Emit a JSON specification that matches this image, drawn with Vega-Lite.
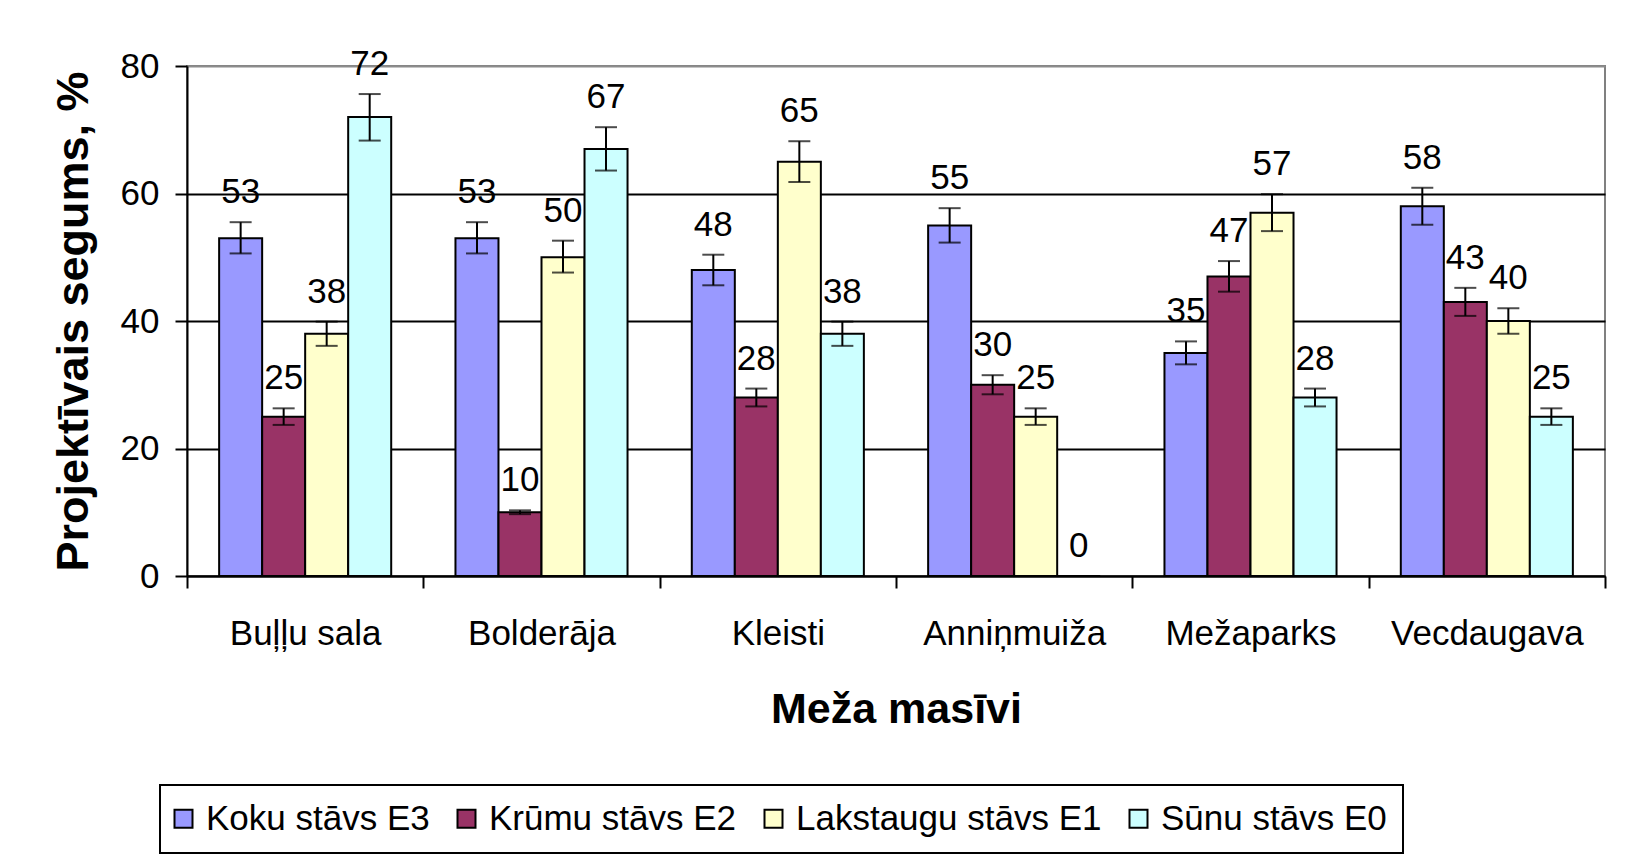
{
  "$schema": "https://vega.github.io/schema/vega-lite/v6.json",
  "width": 1418,
  "height": 510,
  "autosize": {"type": "none"},
  "padding": {"left": 187, "top": 66, "right": 21, "bottom": 281},
  "background": "white",
  "config": {
    "font": "Liberation Sans",
    "view": {"stroke": "#808080", "strokeWidth": 2},
    "axis": {"labelColor": "black", "titleColor": "black", "labelFont": "Liberation Sans", "titleFont": "Liberation Sans"}
  },
  "data": {
    "values": [
      {"site": "Buļļu sala", "layer": "Koku stāvs E3", "value": 53, "lo": 50.6, "hi": 55.5},
      {"site": "Buļļu sala", "layer": "Krūmu stāvs E2", "value": 25, "lo": 23.7, "hi": 26.3},
      {"site": "Buļļu sala", "layer": "Lakstaugu stāvs E1", "value": 38, "lo": 36.1, "hi": 39.9},
      {"site": "Buļļu sala", "layer": "Sūnu stāvs E0", "value": 72, "lo": 68.3, "hi": 75.6},
      {"site": "Bolderāja", "layer": "Koku stāvs E3", "value": 53, "lo": 50.6, "hi": 55.5},
      {"site": "Bolderāja", "layer": "Krūmu stāvs E2", "value": 10, "lo": 9.7, "hi": 10.3},
      {"site": "Bolderāja", "layer": "Lakstaugu stāvs E1", "value": 50, "lo": 47.6, "hi": 52.6},
      {"site": "Bolderāja", "layer": "Sūnu stāvs E0", "value": 67, "lo": 63.6, "hi": 70.4},
      {"site": "Kleisti", "layer": "Koku stāvs E3", "value": 48, "lo": 45.6, "hi": 50.4},
      {"site": "Kleisti", "layer": "Krūmu stāvs E2", "value": 28, "lo": 26.6, "hi": 29.4},
      {"site": "Kleisti", "layer": "Lakstaugu stāvs E1", "value": 65, "lo": 61.8, "hi": 68.2},
      {"site": "Kleisti", "layer": "Sūnu stāvs E0", "value": 38, "lo": 36.1, "hi": 39.9},
      {"site": "Anniņmuiža", "layer": "Koku stāvs E3", "value": 55, "lo": 52.3, "hi": 57.7},
      {"site": "Anniņmuiža", "layer": "Krūmu stāvs E2", "value": 30, "lo": 28.5, "hi": 31.5},
      {"site": "Anniņmuiža", "layer": "Lakstaugu stāvs E1", "value": 25, "lo": 23.7, "hi": 26.3},
      {"site": "Anniņmuiža", "layer": "Sūnu stāvs E0", "value": 0, "lo": 0, "hi": 0},
      {"site": "Mežaparks", "layer": "Koku stāvs E3", "value": 35, "lo": 33.2, "hi": 36.8},
      {"site": "Mežaparks", "layer": "Krūmu stāvs E2", "value": 47, "lo": 44.6, "hi": 49.4},
      {"site": "Mežaparks", "layer": "Lakstaugu stāvs E1", "value": 57, "lo": 54.1, "hi": 59.9},
      {"site": "Mežaparks", "layer": "Sūnu stāvs E0", "value": 28, "lo": 26.6, "hi": 29.4},
      {"site": "Vecdaugava", "layer": "Koku stāvs E3", "value": 58, "lo": 55.1, "hi": 60.9},
      {"site": "Vecdaugava", "layer": "Krūmu stāvs E2", "value": 43, "lo": 40.8, "hi": 45.2},
      {"site": "Vecdaugava", "layer": "Lakstaugu stāvs E1", "value": 40, "lo": 38.0, "hi": 42.0},
      {"site": "Vecdaugava", "layer": "Sūnu stāvs E0", "value": 25, "lo": 23.7, "hi": 26.3}
    ]
  },
  "encoding": {
    "x": {
      "field": "site", "type": "nominal", "sort": null,
      "scale": {"paddingInner": 0, "paddingOuter": 0},
      "axis": {
        "title": "Meža masīvi", "titleFontSize": 43, "titleFontWeight": "bold", "titlePadding": 37,
        "labelAngle": 0, "labelFontSize": 35, "labelPadding": 28, "labelLimit": 0,
        "tickBand": "extent", "tickSize": 12, "tickColor": "black", "tickWidth": 2,
        "domainColor": "black", "domainWidth": 2, "grid": false
      }
    },
    "xOffset": {
      "field": "layer", "type": "nominal", "sort": ["Koku stāvs E3", "Krūmu stāvs E2", "Lakstaugu stāvs E1", "Sūnu stāvs E0"],
      "scale": {"paddingInner": 0, "paddingOuter": 0.747}
    }
  },
  "layer": [
    {
      "mark": {"type": "bar", "stroke": "black", "strokeWidth": 2},
      "encoding": {
        "y": {
          "field": "value", "type": "quantitative",
          "scale": {"domain": [0, 80], "nice": false},
          "axis": {
            "title": "Projektīvais segums, %", "titleFontSize": 45, "titleFontWeight": "bold", "titlePadding": 24,
            "values": [0, 20, 40, 60, 80], "labelFontSize": 35, "labelPadding": 16,
            "tickSize": 12, "tickColor": "black", "tickWidth": 2,
            "domainColor": "black", "domainWidth": 2,
            "grid": true, "gridWidth": 2,
            "gridColor": {"condition": {"test": "datum.value === 80", "value": "#8c8c8c"}, "value": "black"}
          }
        },
        "color": {
          "field": "layer", "type": "nominal",
          "scale": {
            "domain": ["Koku stāvs E3", "Krūmu stāvs E2", "Lakstaugu stāvs E1", "Sūnu stāvs E0"],
            "range": ["#9999FF", "#993366", "#FFFFCC", "#CCFFFF"]
          },
          "legend": {
            "title": null, "orient": "none", "direction": "horizontal",
            "legendX": -27, "legendY": 719,
            "labelFontSize": 35, "labelColor": "black", "labelFont": "Liberation Sans", "labelLimit": 0,
            "symbolType": "square", "symbolSize": 324, "symbolStrokeColor": "black", "symbolStrokeWidth": 2,
            "symbolOpacity": 1, "symbolOffset": -10, "labelOffset": 5, "columnPadding": 23,
            "strokeColor": "black", "padding": 16, "fillColor": "white",
            "encode": {"legend": {"update": {"strokeWidth": {"value": 2}}}}
          }
        }
      }
    },
    {
      "transform": [{"filter": "datum.hi > datum.lo"}],
      "mark": {"type": "rule", "color": "black", "strokeWidth": 2},
      "encoding": {
        "y": {"field": "lo", "type": "quantitative"},
        "y2": {"field": "hi"}
      }
    },
    {
      "transform": [{"filter": "datum.hi > datum.lo"}],
      "mark": {"type": "tick", "color": "black", "thickness": 2, "size": 22, "orient": "horizontal"},
      "encoding": {"y": {"field": "lo", "type": "quantitative"}}
    },
    {
      "transform": [{"filter": "datum.hi > datum.lo"}],
      "mark": {"type": "tick", "color": "black", "thickness": 2, "size": 22, "orient": "horizontal"},
      "encoding": {"y": {"field": "hi", "type": "quantitative"}}
    },
    {
      "mark": {"type": "text", "fontSize": 35, "color": "black", "baseline": "middle", "dy": -30, "font": "Liberation Sans"},
      "encoding": {
        "y": {"field": "hi", "type": "quantitative"},
        "text": {"field": "value", "type": "quantitative"}
      }
    }
  ]
}
